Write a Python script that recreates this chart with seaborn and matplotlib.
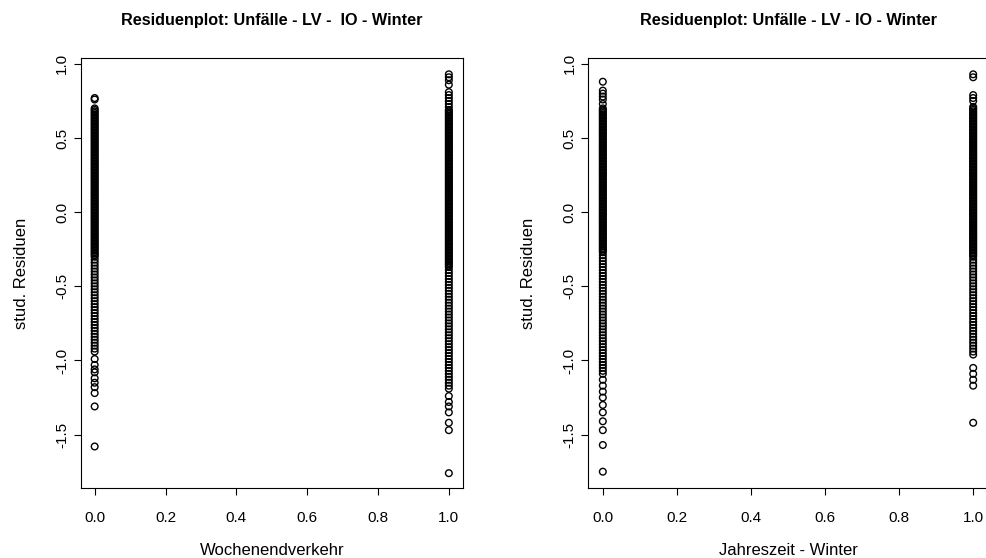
import matplotlib
matplotlib.use("Agg")
import matplotlib.pyplot as plt
import seaborn as sns
import pandas as pd

# ---------------- data ----------------
titles = ["Residuenplot: Unfälle - LV -  IO - Winter",
          "Residuenplot: Unfälle - LV - IO - Winter"]
xlabels = ["Wochenendverkehr", "Jahreszeit - Winter"]
ylabel = "stud. Residuen"
xticks = [0.0, 0.2, 0.4, 0.6, 0.8, 1.0]
yticks = [-1.5, -1.0, -0.5, 0.0, 0.5, 1.0]

# left panel, Wochenendverkehr = 0
w0_top = [0.77, 0.76]
w0_dense = [0.70, 0.69, 0.68, 0.67, 0.66, 0.65, 0.64, 0.63, 0.62, 0.61,
            0.60, 0.59, 0.58, 0.57, 0.56, 0.55, 0.54, 0.53, 0.52, 0.51,
            0.50, 0.49, 0.48, 0.47, 0.46, 0.45, 0.44, 0.43, 0.42, 0.41,
            0.40, 0.39, 0.38, 0.37, 0.36, 0.35, 0.34, 0.33, 0.32, 0.31,
            0.30, 0.29, 0.28, 0.27, 0.26, 0.25, 0.24, 0.23, 0.22, 0.21,
            0.20, 0.19, 0.18, 0.17, 0.16, 0.15, 0.14, 0.13, 0.12, 0.11,
            0.10, 0.09, 0.08, 0.07, 0.06, 0.05, 0.04, 0.03, 0.02, 0.01,
            0.00, -0.01, -0.02, -0.03, -0.04, -0.05, -0.06, -0.07, -0.08, -0.09,
            -0.10, -0.11, -0.12, -0.13, -0.14, -0.15, -0.16, -0.17, -0.18, -0.19,
            -0.20, -0.21, -0.22, -0.23, -0.24, -0.25, -0.26, -0.27, -0.28, -0.29,
            -0.30]
w0_spread = [-0.32, -0.34, -0.36, -0.38, -0.40, -0.42, -0.44, -0.46, -0.48, -0.50,
             -0.52, -0.54, -0.56, -0.58, -0.60, -0.62, -0.64, -0.66, -0.68, -0.70,
             -0.72, -0.74, -0.76, -0.78, -0.80, -0.82, -0.84, -0.86, -0.88, -0.90,
             -0.92, -0.94]
w0_tail = [-0.99, -1.03, -1.06, -1.08, -1.12, -1.15, -1.18, -1.22, -1.31, -1.58]

# left panel, Wochenendverkehr = 1
w1_top = [0.93, 0.91, 0.89, 0.86, 0.81, 0.79, 0.77, 0.75, 0.73, 0.71]
w1_dense = [0.69, 0.68, 0.67, 0.66, 0.65, 0.64, 0.63, 0.62, 0.61,
            0.60, 0.59, 0.58, 0.57, 0.56, 0.55, 0.54, 0.53, 0.52, 0.51,
            0.50, 0.49, 0.48, 0.47, 0.46, 0.45, 0.44, 0.43, 0.42, 0.41,
            0.40, 0.39, 0.38, 0.37, 0.36, 0.35, 0.34, 0.33, 0.32, 0.31,
            0.30, 0.29, 0.28, 0.27, 0.26, 0.25, 0.24, 0.23, 0.22, 0.21,
            0.20, 0.19, 0.18, 0.17, 0.16, 0.15, 0.14, 0.13, 0.12, 0.11,
            0.10, 0.09, 0.08, 0.07, 0.06, 0.05, 0.04, 0.03, 0.02, 0.01,
            0.00, -0.01, -0.02, -0.03, -0.04, -0.05, -0.06, -0.07, -0.08, -0.09,
            -0.10, -0.11, -0.12, -0.13, -0.14, -0.15, -0.16, -0.17, -0.18, -0.19,
            -0.20, -0.21, -0.22, -0.23, -0.24, -0.25, -0.26, -0.27, -0.28, -0.29,
            -0.30, -0.31, -0.32, -0.33, -0.34, -0.35, -0.36, -0.37]
w1_spread = [-0.39, -0.41, -0.43, -0.45, -0.47, -0.49, -0.51, -0.53, -0.55, -0.57,
             -0.59, -0.61, -0.63, -0.65, -0.67, -0.69, -0.71, -0.73, -0.75, -0.77,
             -0.79, -0.81, -0.83, -0.85, -0.87, -0.89, -0.91, -0.93, -0.95, -0.97,
             -0.99, -1.01, -1.03, -1.05, -1.07, -1.09, -1.11, -1.13, -1.15, -1.17,
             -1.19]
w1_tail = [-1.24, -1.28, -1.31, -1.35, -1.42, -1.47, -1.76]

# right panel, Winter = 0
j0_top = [0.88, 0.82, 0.80, 0.78, 0.76, 0.73]
j0_dense = [0.70, 0.69, 0.68, 0.67, 0.66, 0.65, 0.64, 0.63, 0.62, 0.61,
            0.60, 0.59, 0.58, 0.57, 0.56, 0.55, 0.54, 0.53, 0.52, 0.51,
            0.50, 0.49, 0.48, 0.47, 0.46, 0.45, 0.44, 0.43, 0.42, 0.41,
            0.40, 0.39, 0.38, 0.37, 0.36, 0.35, 0.34, 0.33, 0.32, 0.31,
            0.30, 0.29, 0.28, 0.27, 0.26, 0.25, 0.24, 0.23, 0.22, 0.21,
            0.20, 0.19, 0.18, 0.17, 0.16, 0.15, 0.14, 0.13, 0.12, 0.11,
            0.10, 0.09, 0.08, 0.07, 0.06, 0.05, 0.04, 0.03, 0.02, 0.01,
            0.00, -0.01, -0.02, -0.03, -0.04, -0.05, -0.06, -0.07, -0.08, -0.09,
            -0.10, -0.11, -0.12, -0.13, -0.14, -0.15, -0.16, -0.17, -0.18, -0.19,
            -0.20, -0.21, -0.22, -0.23, -0.24, -0.25, -0.26, -0.27]
j0_spread = [-0.29, -0.31, -0.33, -0.35, -0.37, -0.39, -0.41, -0.43, -0.45, -0.47,
             -0.49, -0.51, -0.53, -0.55, -0.57, -0.59, -0.61, -0.63, -0.65, -0.67,
             -0.69, -0.71, -0.73, -0.75, -0.77, -0.79, -0.81, -0.83, -0.85, -0.87,
             -0.89, -0.91, -0.93, -0.95, -0.97, -0.99, -1.01, -1.03, -1.05, -1.07,
             -1.09]
j0_tail = [-1.13, -1.17, -1.21, -1.25, -1.30, -1.35, -1.41, -1.47, -1.57, -1.75]

# right panel, Winter = 1
j1_top = [0.93, 0.91, 0.79, 0.77, 0.75]
j1_dense = [0.71, 0.70, 0.69, 0.68, 0.67, 0.66, 0.65, 0.64, 0.63, 0.62, 0.61,
            0.60, 0.59, 0.58, 0.57, 0.56, 0.55, 0.54, 0.53, 0.52, 0.51,
            0.50, 0.49, 0.48, 0.47, 0.46, 0.45, 0.44, 0.43, 0.42, 0.41,
            0.40, 0.39, 0.38, 0.37, 0.36, 0.35, 0.34, 0.33, 0.32, 0.31,
            0.30, 0.29, 0.28, 0.27, 0.26, 0.25, 0.24, 0.23, 0.22, 0.21,
            0.20, 0.19, 0.18, 0.17, 0.16, 0.15, 0.14, 0.13, 0.12, 0.11,
            0.10, 0.09, 0.08, 0.07, 0.06, 0.05, 0.04, 0.03, 0.02, 0.01,
            0.00, -0.01, -0.02, -0.03, -0.04, -0.05, -0.06, -0.07, -0.08, -0.09,
            -0.10, -0.11, -0.12, -0.13, -0.14, -0.15, -0.16, -0.17, -0.18, -0.19,
            -0.20, -0.21, -0.22, -0.23, -0.24, -0.25, -0.26, -0.27, -0.28, -0.29,
            -0.30]
j1_spread = [-0.32, -0.34, -0.36, -0.38, -0.40, -0.42, -0.44, -0.46, -0.48, -0.50,
             -0.52, -0.54, -0.56, -0.58, -0.60, -0.62, -0.64, -0.66, -0.68, -0.70,
             -0.72, -0.74, -0.76, -0.78, -0.80, -0.82, -0.84, -0.86, -0.88, -0.90,
             -0.92, -0.94, -0.96]
j1_tail = [-1.05, -1.09, -1.13, -1.17, -1.42]

# ---------------- plotting ----------------
sns.set_style("ticks")
plt.rcParams['font.family'] = ['Liberation Sans', 'DejaVu Sans']
plt.rcParams['text.color'] = 'black'
plt.rcParams['axes.labelcolor'] = 'black'
plt.rcParams['xtick.color'] = 'black'
plt.rcParams['ytick.color'] = 'black'

W, H = 986, 558
fig = plt.figure(figsize=(W / 100, H / 100), dpi=100)
fig.patch.set_facecolor("white")


def px_axes(x0, x1, y_top, y_bot):
    return fig.add_axes([x0 / W, (H - y_bot) / H, (x1 - x0) / W, (y_bot - y_top) / H])


ax1 = px_axes(80.5, 463, 58.3, 488.3)
ax2 = px_axes(588, 988, 58.3, 488.3)

groups = [
    (ax1, w0_top + w0_dense + w0_spread + w0_tail,
     w1_top + w1_dense + w1_spread + w1_tail, titles[0], xlabels[0]),
    (ax2, j0_top + j0_dense + j0_spread + j0_tail,
     j1_top + j1_dense + j1_spread + j1_tail, titles[1], xlabels[1]),
]

for ax, g0, g1, title, xlabel in groups:
    df = pd.DataFrame({"x": [0.0] * len(g0) + [1.0] * len(g1),
                       "r": g0 + g1})
    sns.scatterplot(data=df, x="x", y="r", ax=ax, marker="o", s=23,
                    facecolor="none", edgecolor="black", linewidth=1.0,
                    legend=False)
    ax.set_xlim(-0.04, 1.04)
    ax.set_ylim(-1.862, 1.038)
    ax.set_xticks(xticks)
    ax.set_yticks(yticks)
    ax.set_xticklabels([f"{v:.1f}" for v in xticks])
    ax.set_yticklabels([f"{v:.1f}" for v in yticks], rotation=90, va="center")
    ax.tick_params(direction="out", length=5.2, width=0.8, colors="black",
                   labelsize=11)
    ax.tick_params(axis="x", pad=11)
    ax.tick_params(axis="y", pad=3)
    for sp in ax.spines.values():
        sp.set_visible(True)
        sp.set_color("black")
        sp.set_linewidth(0.8)
    ax.set_facecolor("white")
    ax.set_title(title, fontsize=11.7, fontweight="bold", pad=24, color="black")
    ax.set_xlabel(xlabel, fontsize=12, labelpad=13)
    ax.set_ylabel(ylabel, fontsize=12, labelpad=19)

fig.savefig("out.png", dpi=100)
